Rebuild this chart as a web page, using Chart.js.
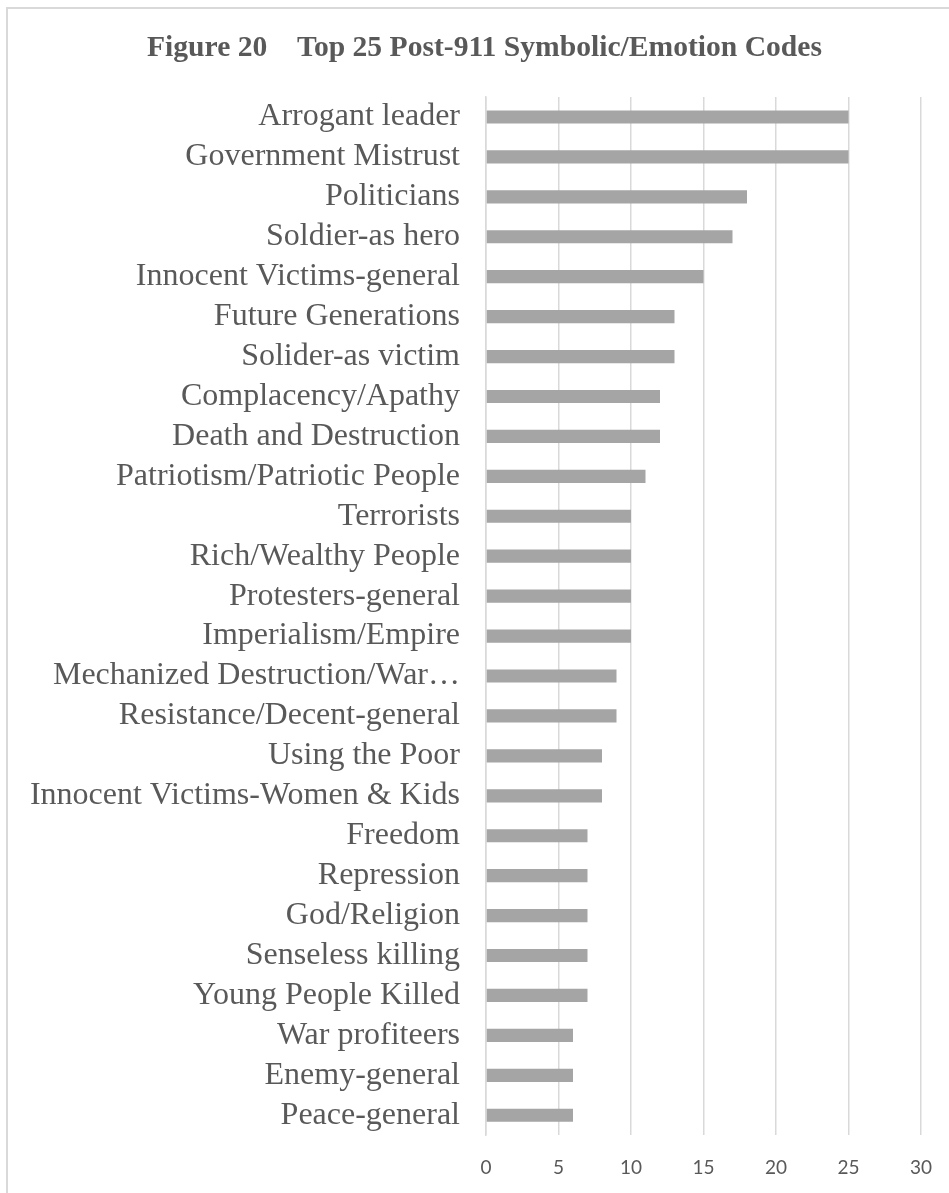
<!DOCTYPE html>
<html>
<head>
<meta charset="utf-8">
<script src="https://cdn.jsdelivr.net/npm/chart.js@4.4.1/dist/chart.umd.min.js"></script>
<style>
    html, body { margin: 0; padding: 0; background: #fff; overflow: hidden; }
    #frame {
        position: absolute; left: 6px; top: 7px; width: 1000px; height: 1300px;
        border-top: 2px solid #d9d9d9; border-left: 2px solid #d9d9d9;
    }
    #wrap { position: absolute; left: 0; top: 0; width: 949px; height: 1193px; }
</style>
</head>
<body>
<div id="frame"></div>
<div id="wrap"><canvas id="codesChart"></canvas></div>
<script>
    const titleText = "Figure 20    Top 25 Post-911 Symbolic/Emotion Codes";
    const categories = [
        "Arrogant leader", "Government Mistrust", "Politicians", "Soldier-as hero",
        "Innocent Victims-general", "Future Generations", "Solider-as victim",
        "Complacency/Apathy", "Death and Destruction", "Patriotism/Patriotic People",
        "Terrorists", "Rich/Wealthy People", "Protesters-general", "Imperialism/Empire",
        "Mechanized Destruction/War\u2026", "Resistance/Decent-general", "Using the Poor",
        "Innocent Victims-Women & Kids", "Freedom", "Repression", "God/Religion",
        "Senseless killing", "Young People Killed", "War profiteers", "Enemy-general",
        "Peace-general"
    ];
    const counts = [25, 25, 18, 17, 15, 13, 13, 12, 12, 11, 10, 10, 10, 10, 9, 9, 8, 8, 7, 7, 7, 7, 7, 6, 6, 6];
    const xTicks = [0, 5, 10, 15, 20, 25, 30];

    // title is drawn off-centre in the original, so place it by hand
    const figureTitle = {
        id: "figureTitle",
        afterDraw(chart) {
            const c = chart.ctx;
            c.save();
            c.font = "bold 29.6px 'Liberation Serif', 'Times New Roman', serif";
            c.fillStyle = "#595959";
            c.textAlign = "center";
            c.textBaseline = "middle";
            c.fillText(titleText, 484.5, 48);
            c.restore();
        }
    };

    const ctx = document.getElementById("codesChart").getContext("2d");
    new Chart(ctx, {
        type: "bar",
        data: {
            labels: categories,
            datasets: [{
                data: counts,
                backgroundColor: "#a5a5a5",
                barPercentage: 0.33,
                categoryPercentage: 1
            }]
        },
        options: {
            indexAxis: "y",
            responsive: true,
            maintainAspectRatio: false,
            animation: false,
            layout: { padding: { left: 0, right: 28, top: 97, bottom: -7 } },
            plugins: {
                legend: { display: false },
                tooltip: { enabled: false },
                title: { display: false }
            },
            scales: {
                x: {
                    min: 0,
                    max: 30,
                    afterBuildTicks: scale => { scale.ticks = xTicks.map(v => ({ value: v })); },
                    afterFit: scale => { scale.paddingLeft = 0; scale.paddingRight = 0; },
                    grid: { color: "#d9d9d9", lineWidth: 1.5, drawTicks: false },
                    border: { display: false },
                    ticks: {
                        color: "#595959",
                        padding: 21,
                        font: { family: "Lato, 'Open Sans', sans-serif", size: 19 }
                    }
                },
                y: {
                    grid: { display: false },
                    border: { display: true, color: "#d9d9d9", width: 1.5 },
                    afterFit: scale => { scale.width = 486; },
                    ticks: {
                        color: "#595959",
                        padding: 18,
                        autoSkip: false,
                        font: { family: "'Liberation Serif', 'Times New Roman', serif", size: 32 }
                    }
                }
            }
        },
        plugins: [figureTitle]
    });
</script>
</body>
</html>
